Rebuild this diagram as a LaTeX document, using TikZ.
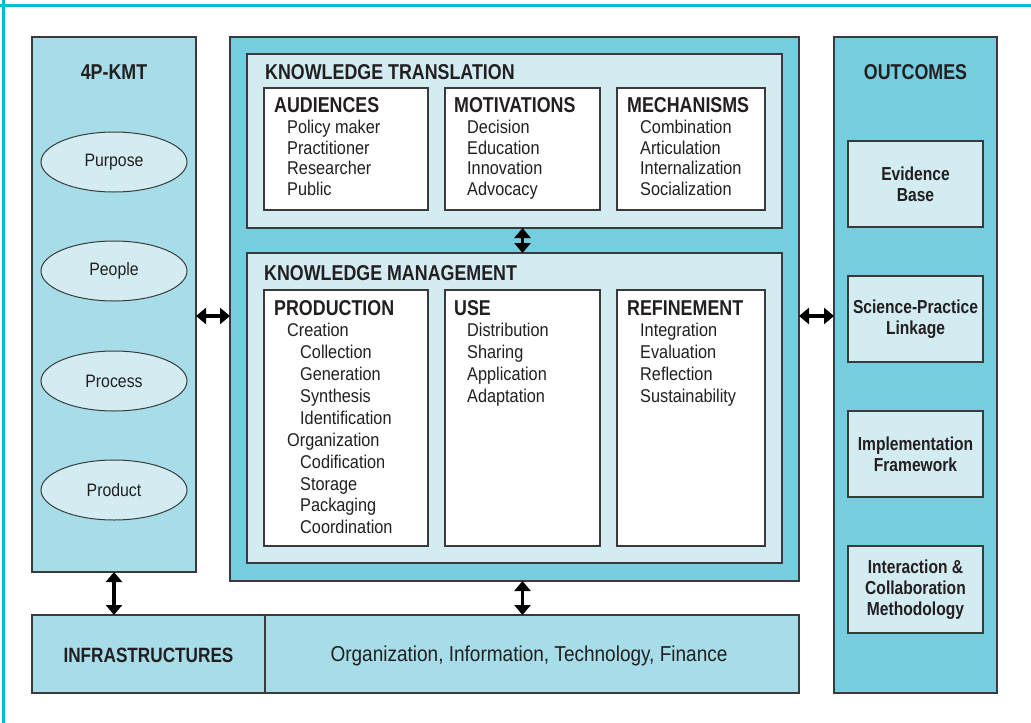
\documentclass[tikz,border=0pt]{standalone}
\usepackage{fontspec}
\setmainfont{Liberation Sans}
\newfontfamily\cnd{Liberation Sans}[FakeStretch=0.88]
\newfontfamily\cndb{Liberation Sans}[FakeStretch=0.83]
\usetikzlibrary{arrows.meta,shapes.geometric}
\definecolor{framec}{HTML}{00BCD4}
\definecolor{midblue}{HTML}{A6DDE8}
\definecolor{darkblue}{HTML}{74CEDF}
\definecolor{paleblue}{HTML}{D3ECF2}
\definecolor{ink}{HTML}{231F20}
\definecolor{edgec}{HTML}{3A3A3A}
\begin{document}
\begin{tikzpicture}[x=1pt,y=-1pt,
  box/.style={draw=edgec,line width=1.1pt,anchor=north west,inner sep=0pt,outer sep=0pt},
  ell/.style={draw=edgec,line width=1pt,ellipse,fill=paleblue,minimum width=146pt,minimum height=60pt,inner sep=0pt,text=ink,font=\cnd\fontsize{18}{20}\selectfont},
  hdr/.style={anchor=base west,inner sep=0pt,text=ink,font=\cndb\bfseries\fontsize{21.5}{24}\selectfont},
  ttl/.style={anchor=base,inner sep=0pt,text=ink,font=\cndb\bfseries\fontsize{21.5}{24}\selectfont},
  itm/.style={anchor=base west,inner sep=0pt,text=ink,font=\cnd\fontsize{18.5}{21}\selectfont},
  obox/.style={box,fill=paleblue,minimum width=135pt,minimum height=86pt},
  otxt/.style={align=center,inner sep=0pt,text=ink,font=\cndb\bfseries\fontsize{18.8}{21}\selectfont},
  dbl/.style={line width=3.5pt,draw=black,{Triangle[length=10pt,width=16pt]}-{Triangle[length=10pt,width=16pt]}}
]
\useasboundingbox (0,0) rectangle (1031,723);
\fill[white] (0,0) rectangle (1031,723);
% frame lines
\draw[framec,line width=3pt] (0,5.5) -- (1031,5.5);
\draw[framec,line width=2.5pt] (3.5,0) -- (3.5,723);

% left panel
\node[box,fill=midblue,minimum width=164pt,minimum height=535pt] (p4) at (32,37) {};
\node[ttl] (p4t) at (114,79) {4P-KMT};
\node[ell] (purpose) at (114,162) {Purpose};
\node[ell] (people) at (114,271) {People};
\node[ell] (process) at (114,381) {Process};
\node[ell] (product) at (114,490) {Product};

% central
\node[box,fill=darkblue,minimum width=569pt,minimum height=544pt] (core) at (230,37) {};
\node[box,fill=paleblue,minimum width=535pt,minimum height=174pt] (kt) at (247,54) {};
\node[hdr] (ktt) at (265,79) {KNOWLEDGE TRANSLATION};
\node[box,fill=white,minimum width=164pt,minimum height=122pt] (aud) at (264,88) {};
\node[box,fill=white,minimum width=155pt,minimum height=122pt] (mot) at (445,88) {};
\node[box,fill=white,minimum width=148pt,minimum height=122pt] (mech) at (617,88) {};
\node[hdr] (audh) at (274,112.7) {AUDIENCES};
\node[hdr] (moth) at (454,112.7) {MOTIVATIONS};
\node[hdr] (mechh) at (627,112.7) {MECHANISMS};
\foreach \t [count=\i] in {Policy maker,Practitioner,Researcher,Public}
  \node[itm] (aud\i) at (287,{133.3+20.7*(\i-1)}) {\t};
\foreach \t [count=\i] in {Decision,Education,Innovation,Advocacy}
  \node[itm] (mot\i) at (467,{133.3+20.7*(\i-1)}) {\t};
\foreach \t [count=\i] in {Combination,Articulation,Internalization,Socialization}
  \node[itm] (mech\i) at (640,{133.3+20.7*(\i-1)}) {\t};

\node[box,fill=paleblue,minimum width=535pt,minimum height=310pt] (km) at (247,253) {};
\node[hdr] (kmt) at (264,280) {KNOWLEDGE MANAGEMENT};
\node[box,fill=white,minimum width=164pt,minimum height=256pt] (prod) at (264,290) {};
\node[box,fill=white,minimum width=155pt,minimum height=256pt] (use) at (445,290) {};
\node[box,fill=white,minimum width=148pt,minimum height=256pt] (ref) at (617,290) {};
\node[hdr] (prodh) at (274,315) {PRODUCTION};
\node[hdr] (useh) at (454,315) {USE};
\node[hdr] (refh) at (627,315) {REFINEMENT};
\foreach \x/\t [count=\i] in {287/Creation,300/Collection,300/Generation,300/Synthesis,300/Identification,287/Organization,300/Codification,300/Storage,300/Packaging,300/Coordination}
  \node[itm] (prod\i) at (\x,{336.7+21.9*(\i-1)}) {\t};
\foreach \t [count=\i] in {Distribution,Sharing,Application,Adaptation}
  \node[itm] (use\i) at (467,{336.7+21.9*(\i-1)}) {\t};
\foreach \t [count=\i] in {Integration,Evaluation,Reflection,Sustainability}
  \node[itm] (ref\i) at (640,{336.7+21.9*(\i-1)}) {\t};

% outcomes
\node[box,fill=darkblue,minimum width=163pt,minimum height=656pt] (out) at (834,37) {};
\node[ttl] (outt) at (915.5,79) {OUTCOMES};
\node[obox] (o1) at (848,141) {};
\node[obox] (o2) at (848,276) {};
\node[obox] (o3) at (848,411) {};
\node[obox,minimum height=87pt] (o4) at (848,546) {};
\node[otxt] (o1t) at (o1.center) {Evidence\\Base};
\node[otxt] (o2t) at (o2.center) {Science-Practice\\Linkage};
\node[otxt] (o3t) at (o3.center) {Implementation\\Framework};
\node[otxt] (o4t) at (o4.center) {Interaction \&\\Collaboration\\Methodology};

% infrastructures
\node[box,fill=midblue,minimum width=767pt,minimum height=78pt] (infra) at (32,615) {};
\coordinate (dv) at (265,0);
\draw[edgec,line width=1.1pt] (infra.north -| dv) -- (infra.south -| dv);
\node[inner sep=0pt,text=ink,font=\cndb\bfseries\fontsize{20.7}{24}\selectfont] (inft) at (148.5,655) {INFRASTRUCTURES};
\node[inner sep=0pt,text=ink,font=\cnd\fontsize{21.6}{24}\selectfont] (infd) at (529,656) {Organization, Information, Technology, Finance};

% connectors
\coordinate (ay) at (0,316);
\coordinate (ax) at (522.5,0);
\draw[dbl] (p4.east |- ay) -- (core.west |- ay);
\draw[dbl] (core.east |- ay) -- (out.west |- ay);
\draw[dbl] (kt.south -| ax) -- (km.north -| ax);
\draw[dbl] (core.south -| ax) -- (infra.north -| ax);
\draw[dbl] (p4.south) -- (p4.south |- infra.north);
\end{tikzpicture}
\end{document}
